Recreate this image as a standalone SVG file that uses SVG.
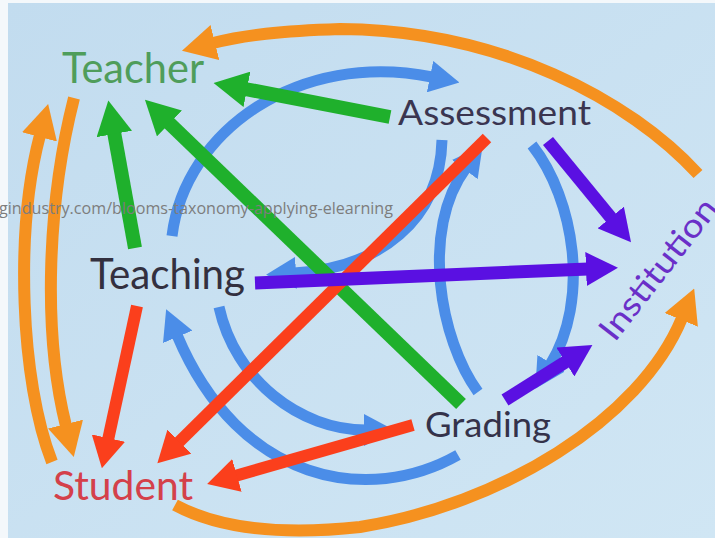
<svg xmlns="http://www.w3.org/2000/svg" width="715" height="538" viewBox="0 0 715 538">
<style>
.lbl{font-family:Lato,"Open Sans","Liberation Sans",sans-serif;}
.c{fill:none;stroke-linecap:butt;}
.o{stroke:#f5911f;stroke-width:12;}
.g{stroke:#1fb02c;stroke-width:14;}
.b{stroke:#4b8de8;stroke-width:11;}
.r{stroke:#fb3f1c;stroke-width:12;}
.p{stroke:#5a10e2;stroke-width:13;}
</style>
<defs>
<marker id="mo" viewBox="0 0 34 36" refX="2" refY="18" markerWidth="34" markerHeight="36" markerUnits="userSpaceOnUse" orient="auto"><path d="M0,0 L34,18 L0,36 z" fill="#f5911f"/></marker>
<marker id="mg" viewBox="0 0 34 36" refX="2" refY="18" markerWidth="34" markerHeight="36" markerUnits="userSpaceOnUse" orient="auto"><path d="M0,0 L34,18 L0,36 z" fill="#1fb02c"/></marker>
<marker id="mb" viewBox="0 0 30 32" refX="2" refY="16" markerWidth="30" markerHeight="32" markerUnits="userSpaceOnUse" orient="auto"><path d="M0,0 L30,16 L0,32 z" fill="#4b8de8"/></marker>
<marker id="mr" viewBox="0 0 31 34" refX="2" refY="17" markerWidth="31" markerHeight="34" markerUnits="userSpaceOnUse" orient="auto"><path d="M0,0 L31,17 L0,34 z" fill="#fb3f1c"/></marker>
<marker id="mp" viewBox="0 0 32 34" refX="2" refY="17" markerWidth="32" markerHeight="34" markerUnits="userSpaceOnUse" orient="auto"><path d="M0,0 L32,17 L0,34 z" fill="#5a10e2"/></marker>
<linearGradient id="bg" x1="0" y1="0" x2="1" y2="1">
<stop offset="0" stop-color="#c2dcef"/>
<stop offset="1" stop-color="#d0e6f4"/>
</linearGradient>
</defs>
<rect width="715" height="538" fill="#f4f8fb"/>
<rect x="8" y="3" width="707" height="535" fill="url(#bg)"/>
<g id="connectors">
<!-- orange -->
<path class="c o" d="M698 174 C630 100, 500 30, 340 29 C280 31, 245 35, 213 43" marker-end="url(#mo)"/>
<path class="c o" d="M52 462 C20 380, 15 230, 40 135" marker-end="url(#mo)"/>
<path class="c o" d="M74 98 C48 200, 42 330, 66 426" marker-end="url(#mo)"/>
<path class="c o" d="M175 505 Q240 540 360 527 C500 505, 640 420, 682 318" marker-end="url(#mo)"/>
<!-- blue -->
<path class="c b" d="M172 236 C185 130, 300 50, 432 77" marker-end="url(#mb)"/>
<path class="c b" d="M442 140 C440 220, 380 268, 294 273" marker-end="url(#mb)"/>
<path class="c b" d="M219 307 C235 380, 300 430, 366 430" marker-end="url(#mb)"/>
<path class="c b" d="M458 455 C370 505, 240 485, 177 335" marker-end="url(#mb)"/>
<path class="c b" d="M478 392 C440 340, 420 230, 466 168" marker-end="url(#mb)"/>
<path class="c b" d="M532 145 C575 200, 590 300, 550 365" marker-end="url(#mb)"/>
<!-- green -->
<path class="c g" d="M390 117 L245 89" marker-end="url(#mg)"/>
<path class="c g" d="M135 248 L114 132" marker-end="url(#mg)"/>
<path class="c g" d="M461 404 L168 122" marker-end="url(#mg)"/>
<!-- red -->
<path class="c r" d="M487 138 L178 443" marker-end="url(#mr)"/>
<path class="c r" d="M137 306 L108 440" marker-end="url(#mr)"/>
<path class="c r" d="M413 425 L235 476" marker-end="url(#mr)"/>
<!-- purple -->
<path class="c p" d="M255 283 L588 269" marker-end="url(#mp)"/>
<path class="c p" d="M548 141 L612 219" marker-end="url(#mp)"/>
<path class="c p" d="M505 400 L567 361" marker-end="url(#mp)"/>
</g>
<g id="teacher"><text class="lbl" x="62" y="83" font-size="42" fill="#4f9d5b" textLength="142" lengthAdjust="spacingAndGlyphs">Teacher</text></g>
<g id="assessment"><text class="lbl" x="398" y="125" font-size="35" fill="#3a3550" textLength="193" lengthAdjust="spacingAndGlyphs">Assessment</text></g>
<g id="teaching"><text class="lbl" x="90" y="289" font-size="42" fill="#33303f" textLength="155" lengthAdjust="spacingAndGlyphs">Teaching</text></g>
<g id="grading"><text class="lbl" x="425" y="437" font-size="35" fill="#34324a" textLength="126" lengthAdjust="spacingAndGlyphs">Grading</text></g>
<g id="student"><text class="lbl" x="53" y="500" font-size="40" fill="#d4404a" textLength="140" lengthAdjust="spacingAndGlyphs">Student</text></g>
<g id="institution"><text class="lbl" x="0" y="0" font-size="33" fill="#6a2fc8" text-anchor="middle" textLength="170" lengthAdjust="spacingAndGlyphs" transform="translate(667 276) rotate(-52)">Institution</text></g>
<text x="-1" y="214" font-family="'Open Sans','Liberation Sans',sans-serif" font-size="17" fill="#7d7d7d" textLength="394" lengthAdjust="spacingAndGlyphs">gindustry.com/blooms-taxonomy-applying-elearning</text>
</svg>
